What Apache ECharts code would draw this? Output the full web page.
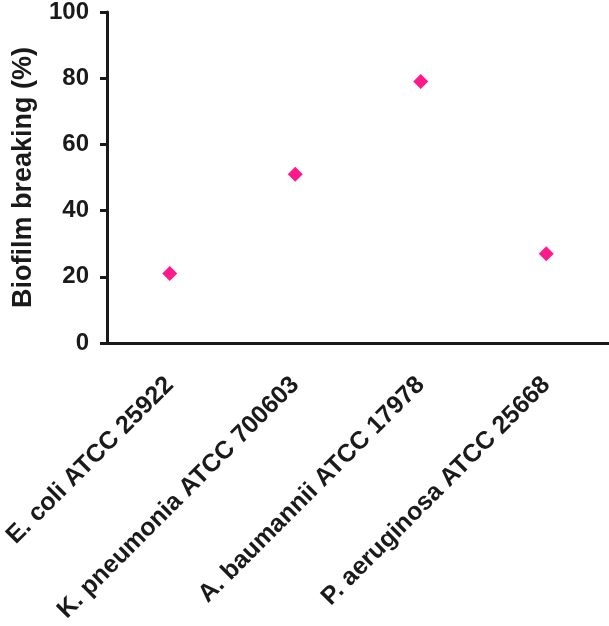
<!DOCTYPE html>
<html>
<head>
<meta charset="utf-8">
<script src="https://cdn.jsdelivr.net/npm/echarts@6/dist/echarts.min.js"></script>
<style>
  html, body { margin: 0; padding: 0; background: #fff; }
  #main { width: 609px; height: 626px; }
</style>
</head>
<body>
<div id="main"></div>
<script>
var strains = ['E. coli ATCC 25922', 'K. pneumonia ATCC 700603', 'A. baumannii ATCC 17978', 'P. aeruginosa ATCC 25668'];
var breaking = [21, 51, 79, 27];
var yTicks = [0, 20, 40, 60, 80, 100];

var chart = echarts.init(document.getElementById('main'), null, { renderer: 'canvas' });

var ink = '#1a1a1a';
var font = 'Liberation Sans, Arial, sans-serif';

var option = {
  animation: false,
  backgroundColor: '#fff',
  grid: { left: 107, right: 0, top: 12, bottom: 283, containLabel: false, outerBoundsMode: 'none' },
  xAxis: {
    type: 'category',
    data: strains,
    boundaryGap: true,
    axisLine: { lineStyle: { color: ink, width: 3 } },
    axisTick: { alignWithLabel: true, length: 7, lineStyle: { color: ink, width: 3 } },
    axisLabel: {
      rotate: 45,
      margin: 38,
      color: ink,
      fontFamily: font,
      fontWeight: 'bold',
      fontSize: 25,
      interval: 0
    },
    splitLine: { show: false }
  },
  yAxis: {
    type: 'value',
    min: yTicks[0],
    max: yTicks[yTicks.length - 1],
    interval: yTicks[1] - yTicks[0],
    name: 'Biofilm breaking (%)',
    nameLocation: 'middle',
    nameGap: 70,
    nameTextStyle: { color: ink, fontFamily: font, fontWeight: 'bold', fontSize: 27 },
    axisLine: { show: true, lineStyle: { color: ink, width: 3 } },
    axisTick: { show: true, length: 7, lineStyle: { color: ink, width: 3 } },
    axisLabel: { margin: 18, color: ink, fontFamily: font, fontWeight: 'bold', fontSize: 24 },
    splitLine: { show: false }
  },
  series: [
    {
      type: 'scatter',
      data: breaking,
      symbol: 'diamond',
      symbolSize: 15,
      itemStyle: { color: '#ff1a8c', opacity: 1 }
    }
  ]
};

chart.setOption(option);
</script>
</body>
</html>
